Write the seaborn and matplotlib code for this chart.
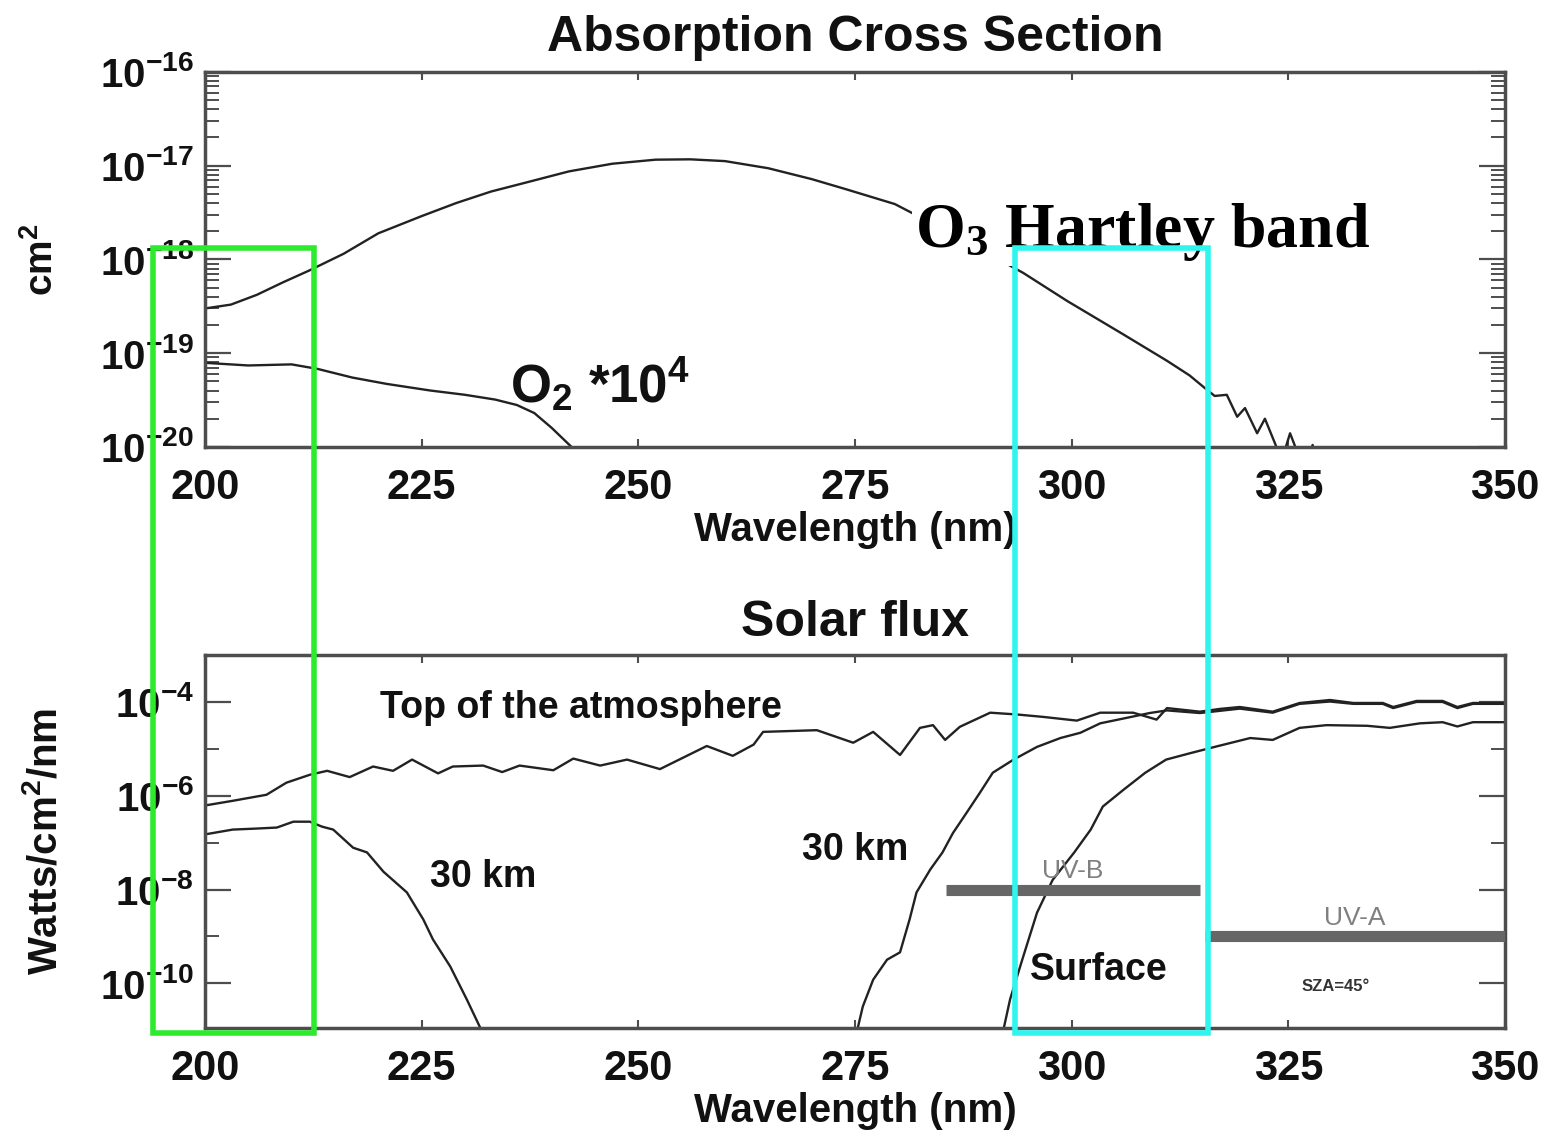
import numpy as np
import matplotlib
matplotlib.use("Agg")
import matplotlib.pyplot as plt
import seaborn as sns
from matplotlib.ticker import LogLocator, FixedLocator, NullFormatter
from matplotlib.patches import Rectangle
from matplotlib.transforms import blended_transform_factory

# ------------------------------------------------------------------
# Values
# ------------------------------------------------------------------
# O3 absorption cross section (cm^2)
o3_wl = [200, 203, 206, 209, 212, 216, 220, 225, 229, 233, 237, 242, 247, 252,
         256, 260, 265, 270, 274, 279.6, 284, 289, 294.4, 299.5, 305.9, 311.0,
         313.6, 315.3, 316.5, 317.9, 319.1, 320.0, 321.4, 322.3, 323.5, 324.2,
         325.2, 326.0, 326.8, 327.8, 328.5]
o3_xs = [3.0e-19, 3.3e-19, 4.2e-19, 5.7e-19, 7.6e-19, 1.15e-18, 1.9e-18, 2.9e-18,
         4.0e-18, 5.3e-18, 6.6e-18, 8.7e-18, 1.05e-17, 1.16e-17, 1.17e-17, 1.12e-17,
         9.4e-18, 7.2e-18, 5.6e-18, 3.9e-18, 2.4e-18, 1.35e-18, 7.2e-19, 3.6e-19,
         1.6e-19, 8.3e-20, 5.8e-20, 4.3e-20, 3.5e-20, 3.6e-20, 2.1e-20, 2.6e-20,
         1.4e-20, 2.0e-20, 1.07e-20, 7e-21, 1.4e-20, 9e-21, 5e-21, 1.05e-20, 5e-21]

# O2 cross section * 1e4 (cm^2)
o2_wl = [200, 205, 210, 213, 217, 221, 226, 230, 233.5, 236, 238, 240, 242.3, 244]
o2_xs = [7.9e-20, 7.4e-20, 7.6e-20, 6.8e-20, 5.5e-20, 4.7e-20, 4.0e-20, 3.6e-20,
         3.2e-20, 2.8e-20, 2.3e-20, 1.6e-20, 1.0e-20, 6e-21]

# Solar flux at the top of the atmosphere (W/cm^2/nm)
toa_wl = [200, 203.2, 207.1, 209.4, 212.1, 214.1, 216.7, 219.4, 221.7, 223.9,
          226.9, 228.6, 232.1, 234.3, 236.3, 240.2, 242.5, 245.6, 248.7, 252.5,
          257.9, 260.9, 263.3, 264.4, 270.6, 274.8, 277.1, 280.2, 282.5, 284.0,
          285.4, 287.1, 290.6, 293.7, 296.7, 300.6, 303.3, 307.1, 309.8, 311.0,
          314.8, 317.1, 319.4, 323.2, 326.3, 329.8, 332.5, 335.9, 337.1, 339.8,
          342.8, 344.5, 346.3, 350]
toa_flux = [6.2e-7, 7.8e-7, 1.05e-6, 1.9e-6, 2.8e-6, 3.4e-6, 2.5e-6, 4.2e-6, 3.4e-6,
            5.9e-6, 3.0e-6, 4.2e-6, 4.4e-6, 3.2e-6, 4.4e-6, 3.5e-6, 6.2e-6, 4.4e-6,
            5.9e-6, 3.7e-6, 1.15e-5, 7.1e-6, 1.23e-5, 2.3e-5, 2.5e-5, 1.35e-5, 2.3e-5,
            7.4e-6, 2.8e-5, 3.2e-5, 1.55e-5, 2.95e-5, 5.9e-5, 5.4e-5, 4.8e-5, 4.0e-5,
            5.9e-5, 5.9e-5, 4.2e-5, 7.4e-5, 6.2e-5, 7.1e-5, 7.8e-5, 6.2e-5, 9.5e-5,
            1.1e-4, 9.5e-5, 9.5e-5, 7.8e-5, 1.05e-4, 1.05e-4, 7.8e-5, 9.5e-5, 9.5e-5]

# Solar flux at 30 km, short wavelength window
km30a_wl = [200, 203.2, 206, 208.3, 210.2, 212.1, 213.5, 214.8, 217.1, 218.7,
            220.6, 223.3, 225.2, 226.3, 228.3, 230.2, 231.7, 232.6]
km30a_flux = [1.5e-7, 1.9e-7, 2.0e-7, 2.1e-7, 2.8e-7, 2.8e-7, 2.2e-7, 1.9e-7, 7.8e-8,
              6.2e-8, 2.4e-8, 8.7e-9, 2.3e-9, 8.7e-10, 2.3e-10, 4.6e-11, 1.2e-11, 5e-12]

# Solar flux at 30 km, long wavelength side
km30b_wl = [275.0, 275.9, 277.1, 278.7, 280.2, 281.3, 282.1, 283.7, 285.1, 286.3,
            287.9, 289.4, 290.9, 293.3, 296.0, 298.7, 301, 303.3, 306.4, 309.0,
            311, 314.8, 319.4, 323.2, 326.3, 329.8, 332.5, 335.9, 337.1, 339.8,
            342.8, 344.5, 346.3, 350]
km30b_flux = [6.3e-12, 3.2e-11, 1.2e-10, 3.2e-10, 4.6e-10, 2.3e-9, 8.7e-9, 2.7e-8,
              6.2e-8, 1.6e-7, 4.4e-7, 1.15e-6, 3.1e-6, 5.9e-6, 1.1e-5, 1.7e-5, 2.2e-5,
              3.5e-5, 4.6e-5, 5.8e-5, 6.6e-5, 5.8e-5, 7.2e-5, 5.9e-5, 9.1e-5, 1.02e-4,
              9.1e-5, 9.1e-5, 7.4e-5, 1.0e-4, 1.0e-4, 7.4e-5, 9.1e-5, 9.1e-5]

# Solar flux at the surface (SZA = 45 deg)
sfc_wl = [292.0, 292.9, 294.3, 296.0, 297.8, 300.3, 302.2, 303.6, 306.0, 308.5,
          310.9, 313.7, 316.5, 320.6, 323.2, 326.3, 329.4, 334.1, 336.7, 340.2,
          342.8, 344.5, 346.3, 350]
sfc_flux = [8e-12, 4.6e-11, 3.2e-10, 3.2e-9, 1.6e-8, 6.2e-8, 1.9e-7, 5.9e-7, 1.35e-6,
            3.1e-6, 5.9e-6, 8.1e-6, 1.1e-5, 1.7e-5, 1.55e-5, 2.8e-5, 3.2e-5, 3.1e-5,
            2.8e-5, 3.5e-5, 3.7e-5, 3.0e-5, 3.7e-5, 3.7e-5]

# UV bands
band_names = ['UV-B', 'UV-A']
band_start = [285.5, 315.4]
band_end = [314.8, 350]
band_level = [1e-8, 1e-9]

# highlighted wavelength windows (boxes drawn over both panels)
green_window = [194.0, 212.6]
cyan_window = [293.5, 315.7]

x_ticks = [200, 225, 250, 275, 300, 325, 350]
xs_decades = [1e-20, 1e-19, 1e-18, 1e-17, 1e-16]
flux_labelled = [1e-10, 1e-8, 1e-6, 1e-4]
flux_unlabelled = [1e-9, 1e-7, 1e-5]

# ------------------------------------------------------------------
sns.set_style("white")
plt.rcParams['font.family'] = ['Liberation Sans', 'DejaVu Sans']
plt.rcParams['font.weight'] = 'bold'
plt.rcParams['axes.labelweight'] = 'bold'
plt.rcParams['mathtext.default'] = 'regular'
for key in ('text.color', 'axes.labelcolor', 'xtick.labelcolor', 'ytick.labelcolor'):
    plt.rcParams[key] = '#111111'

line_col = '#222222'
frame_col = '#4d4d4d'

fig = plt.figure(figsize=(15.49, 11.37), dpi=100)
ax1 = fig.add_axes([0.1323, 0.6069, 0.8393, 0.3298])
ax2 = fig.add_axes([0.1323, 0.0959, 0.8393, 0.3280])

# --- top panel: absorption cross sections
sns.lineplot(x=o3_wl, y=o3_xs, ax=ax1, color=line_col, lw=1.7, estimator=None, sort=False)
sns.lineplot(x=o2_wl, y=o2_xs, ax=ax1, color=line_col, lw=1.7, estimator=None, sort=False)
ax1.set_yscale('log')
ax1.set_ylim(1e-20, 1e-16)
ax1.yaxis.set_major_locator(FixedLocator(xs_decades))
ax1.yaxis.set_minor_locator(LogLocator(base=10, subs=np.arange(2, 10), numticks=20))
ax1.yaxis.set_minor_formatter(NullFormatter())
ax1.set_title('Absorption Cross Section', fontsize=36, pad=15, fontweight='bold')
ax1.set_ylabel('cm$^2$', fontsize=28)
ax1.yaxis.set_label_coords(-0.111, 0.5)

ax1.text(235.2, 10 ** -19.54, 'O$_2$ *10$^4$', fontsize=38, ha='left', va='baseline')
ax1.text(281.9, 10 ** -17.87, 'O$_3$ Hartley band', fontsize=46, ha='left', va='baseline',
         family='Liberation Serif', fontweight='bold', color='black', zorder=5,
         bbox=dict(facecolor='white', edgecolor='none', boxstyle='square,pad=0.05'))

# --- bottom panel: solar flux
for wl, fl in [(toa_wl, toa_flux), (km30a_wl, km30a_flux),
               (km30b_wl, km30b_flux), (sfc_wl, sfc_flux)]:
    sns.lineplot(x=wl, y=fl, ax=ax2, color=line_col, lw=1.7, estimator=None, sort=False)
ax2.set_yscale('log')
ax2.set_ylim(10 ** -10.95, 1e-3)
ax2.yaxis.set_major_locator(FixedLocator(flux_labelled))
ax2.yaxis.set_minor_locator(FixedLocator(flux_unlabelled))
ax2.yaxis.set_minor_formatter(NullFormatter())
ax2.set_title('Solar flux', fontsize=36, pad=14, fontweight='bold')
ax2.set_ylabel('Watts/cm$^2$/nm', fontsize=29)
ax2.yaxis.set_label_coords(-0.108, 0.5)

ax2.hlines(band_level, band_start, band_end, colors='#666666', lw=8, zorder=3)
for name, s, e, lev in zip(band_names, band_start, band_end, band_level):
    ax2.text((s + e) / 2, lev * 10 ** 0.4, name, fontsize=19, fontweight='normal',
             color='#808080', ha='center', va='center')

ax2.text(220.2, 10 ** -4.13, 'Top of the atmosphere', fontsize=27, va='center')
ax2.text(226.0, 10 ** -7.74, '30 km', fontsize=27, va='center')
ax2.text(268.9, 10 ** -7.15, '30 km', fontsize=27, va='center')
ax2.text(295.2, 10 ** -9.72, 'Surface', fontsize=27, va='center')
ax2.text(330.5, 10 ** -10.06, 'SZA=45°', fontsize=12, va='center', ha='center', color='#333333')

for ax in (ax1, ax2):
    ax.set_xlim(200, 350)
    ax.set_xticks(x_ticks)
    ax.set_xlabel('Wavelength (nm)', fontsize=29, labelpad=2)
    ax.tick_params(axis='x', which='major', direction='in', length=6, width=1.5,
                   top=True, bottom=True, labelsize=30, pad=15, color=frame_col)
    ax.tick_params(axis='y', which='major', direction='in', length=19, width=1.6,
                   left=True, right=True, labelsize=29, pad=8, color=frame_col)
    ax.tick_params(axis='y', which='minor', direction='in', length=10, width=1.4,
                   left=True, right=True, color=frame_col)
    for sp in ax.spines.values():
        sp.set_color(frame_col)
        sp.set_linewidth(2.5)

# --- coloured highlight boxes spanning both panels
trans = blended_transform_factory(ax2.transData, fig.transFigure)
box_bottom, box_top = 0.0915, 0.7819
for (x0, x1), col in [(green_window, '#2eea2e'), (cyan_window, '#2ef5f0')]:
    fig.add_artist(Rectangle((x0, box_bottom), x1 - x0, box_top - box_bottom,
                             transform=trans, fill=False, edgecolor=col, lw=4,
                             zorder=10, clip_on=False))

fig.savefig('out.png', dpi=100)
